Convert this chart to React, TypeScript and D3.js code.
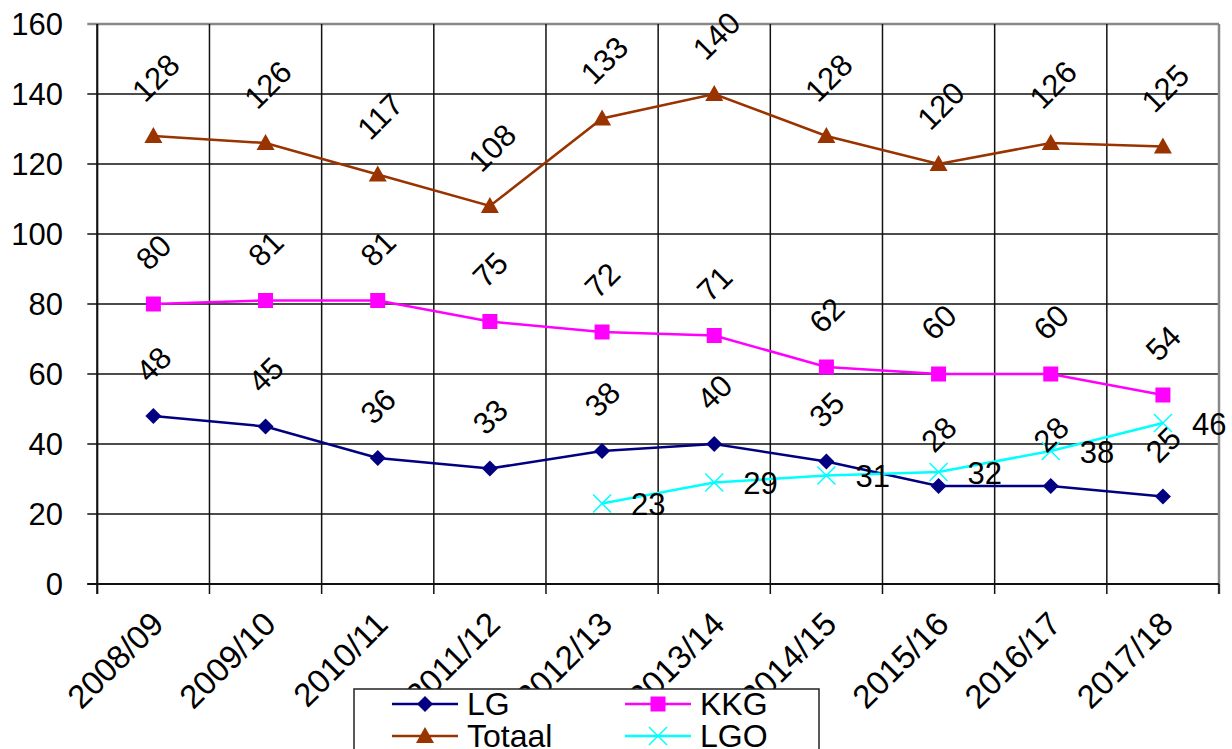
import React from "react";
import * as d3 from "d3";

const categories = ["2008/09","2009/10","2010/11","2011/12","2012/13","2013/14","2014/15","2015/16","2016/17","2017/18"];
const LG = [48,45,36,33,38,40,35,28,28,25];
const KKG = [80,81,81,75,72,71,62,60,60,54];
const Totaal = [128,126,117,108,133,140,128,120,126,125];
const LGO: (number|null)[] = [null,null,null,null,23,29,31,32,38,46];
const yTicks = [0,20,40,60,80,100,120,140,160];

const W = 1232, H = 749;
const left = 97.3, right = 1219, top = 24, bottom = 584;
const FONT = "'Liberation Sans', Arial, sans-serif";

const x = d3.scaleBand<string>().domain(categories).range([left, right]).padding(0);
const y = d3.scaleLinear().domain([0, 160]).range([bottom, top]);
const cx = (i: number) => (x(categories[i]) as number) + x.bandwidth() / 2;

function marker(kind: string, px: number, py: number, color: string, key: string) {
  if (kind === "diamond") {
    const r = 8;
    return <path key={key} d={`M${px},${py - r}L${px + r},${py}L${px},${py + r}L${px - r},${py}Z`} fill={color} />;
  }
  if (kind === "square") {
    const r = 7.5;
    return <rect key={key} x={px - r} y={py - r} width={2 * r} height={2 * r} fill={color} />;
  }
  if (kind === "triangle") {
    return <path key={key} d={`M${px},${py - 9}L${px + 9},${py + 7}L${px - 9},${py + 7}Z`} fill={color} />;
  }
  const r = 9;
  return <path key={key} d={`M${px - r},${py - r}L${px + r},${py + r}M${px - r},${py + r}L${px + r},${py - r}`} stroke={color} strokeWidth={1.5} fill="none" />;
}

type Series = { name: string; values: (number|null)[]; color: string; kind: string; rotated: boolean };
const series: Series[] = [
  { name: "Totaal", values: Totaal, color: "#993300", kind: "triangle", rotated: true },
  { name: "KKG", values: KKG, color: "#FF00FF", kind: "square", rotated: true },
  { name: "LG", values: LG, color: "#000080", kind: "diamond", rotated: true },
  { name: "LGO", values: LGO, color: "#00FFFF", kind: "x", rotated: false },
];

export default function App() {
  const line = d3.line<[number, number|null]>()
    .defined(d => d[1] != null)
    .x(d => cx(d[0]))
    .y(d => y(d[1] as number));

  const legendItems = [
    { name: "LG", color: "#000080", kind: "diamond", lx: 392, ly: 704 },
    { name: "KKG", color: "#FF00FF", kind: "square", lx: 625, ly: 704 },
    { name: "Totaal", color: "#993300", kind: "triangle", lx: 392, ly: 736 },
    { name: "LGO", color: "#00FFFF", kind: "x", lx: 625, ly: 736 },
  ];

  return (
    <svg width={W} height={H} style={{ position: "absolute", left: 0, top: 0, background: "#fff" }} fontFamily={FONT}>
      <rect x={0} y={0} width={W} height={H} fill="#fff" />
      {/* horizontal gridlines */}
      {yTicks.map(t => (
        <g key={"yt" + t}>
          <line x1={left - 10} x2={right} y1={y(t)} y2={y(t)} stroke={t === 160 ? "#888" : "#111"} strokeWidth={t === 160 ? 2.5 : 1.5} />
          <text x={63} y={y(t)} textAnchor="end" dominantBaseline="central" fontSize={31} fill="#000">{t}</text>
        </g>
      ))}
      {/* vertical gridlines */}
      {d3.range(categories.length + 1).map(i => {
        const xv = left + i * x.bandwidth();
        const isRight = i === categories.length;
        return (
          <line key={"vg" + i} x1={xv} x2={xv} y1={top} y2={bottom + 10}
            stroke={isRight ? "#888" : "#111"} strokeWidth={isRight ? 2.5 : 1.5} />
        );
      })}
      <line x1={right} x2={right} y1={bottom} y2={bottom + 10} stroke="#111" strokeWidth={1.5} />
      <line x1={left} x2={left} y1={top} y2={bottom + 10} stroke="#111" strokeWidth={2} />
      <line x1={left - 10} x2={right} y1={bottom} y2={bottom} stroke="#111" strokeWidth={2} />

      {/* x labels */}
      {categories.map((c, i) => (
        <text key={"xl" + c} transform={`translate(${cx(i) + 4},618) rotate(-45)`} textAnchor="end"
          dominantBaseline="central" fontSize={33} fill="#000">{c}</text>
      ))}

      {/* series lines */}
      {series.map(s => (
        <path key={"ln" + s.name} d={line(s.values.map((v, i) => [i, v] as [number, number|null])) || ""}
          fill="none" stroke={s.color} strokeWidth={2.5} />
      ))}
      {/* markers */}
      {series.map(s => s.values.map((v, i) => v == null ? null : marker(s.kind, cx(i), y(v), s.color, s.name + i)))}
      {/* labels */}
      {series.map(s => s.values.map((v, i) => {
        if (v == null) return null;
        const px = cx(i), py = y(v);
        if (s.rotated) {
          const len = String(v).length;
          const dy = len >= 3 ? 58 : 51.5;
          const dx = len >= 3 ? 2.5 : 0.5;
          return (
            <text key={"lb" + s.name + i} transform={`translate(${px + dx},${py - dy}) rotate(-45)`}
              textAnchor="middle" dominantBaseline="central" fontSize={31} fill="#000">{v}</text>
          );
        }
        return (
          <text key={"lb" + s.name + i} x={px + 29} y={py + 1} textAnchor="start" dominantBaseline="central"
            fontSize={31} fill="#000">{v}</text>
        );
      }))}

      {/* legend */}
      <rect x={354} y={689} width={465} height={80} fill="#fff" stroke="#222" strokeWidth={1.5} />
      {legendItems.map(it => (
        <g key={"lg" + it.name}>
          <line x1={it.lx} x2={it.lx + 66} y1={it.ly} y2={it.ly} stroke={it.color} strokeWidth={2.5} />
          {marker(it.kind, it.lx + 33, it.ly, it.color, "lgm" + it.name)}
          <text x={it.lx + 75} y={it.ly} dominantBaseline="central" fontSize={32} fill="#000">{it.name}</text>
        </g>
      ))}
    </svg>
  );
}
